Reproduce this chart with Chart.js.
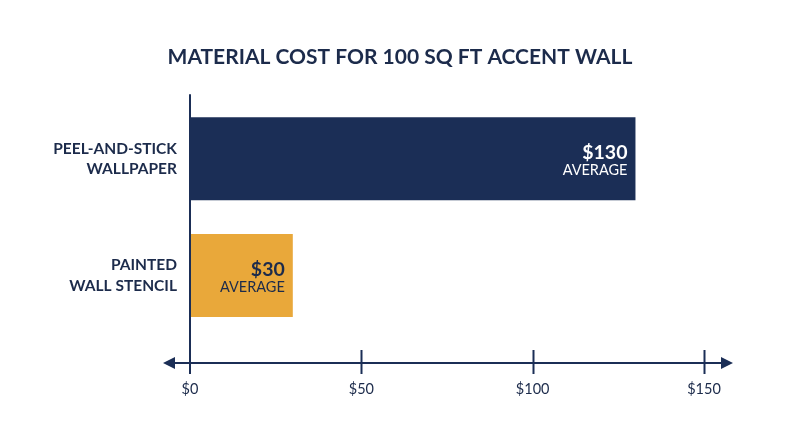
<!DOCTYPE html>
<html>
<head>
<meta charset="utf-8">
<script src="https://cdn.jsdelivr.net/npm/chart.js@4"></script>
<style>
  html, body { margin: 0; padding: 0; background: #ffffff; }
  #wrap { width: 800px; height: 447px; position: relative; }
</style>
</head>
<body>
<div id="wrap"><canvas id="c" width="800" height="447"></canvas></div>
<script>
const categories = [["PEEL-AND-STICK", "WALLPAPER"], ["PAINTED", "WALL STENCIL"]];
const values = [130, 30];
const valueLabels = ["$130", "$30"];
const subLabel = "AVERAGE";
const tickValues = [0, 50, 100, 150];
const titleText = "MATERIAL COST FOR 100 SQ FT ACCENT WALL";

const NAVY = "#1b2e56";
const TEXT = "#1c2b4b";
const ORANGE = "#e9a83a";
const FONT = "Lato, 'Open Sans', sans-serif";

const decor = {
  id: "decor",
  afterDatasetsDraw(chart) {
    const ctx = chart.ctx;
    const xs = chart.scales.x;
    const ca = chart.chartArea;
    const axisY = ca.bottom + 29;
    const x0 = xs.getPixelForValue(0);
    const xMax = xs.getPixelForValue(150);
    ctx.save();
    ctx.strokeStyle = NAVY;
    ctx.fillStyle = NAVY;
    ctx.lineWidth = 2;
    // horizontal axis
    ctx.beginPath();
    ctx.moveTo(x0 - 20, axisY);
    ctx.lineTo(xMax + 20, axisY);
    ctx.stroke();
    // arrows
    ctx.beginPath();
    ctx.moveTo(x0 - 27, axisY);
    ctx.lineTo(x0 - 15, axisY - 6);
    ctx.lineTo(x0 - 15, axisY + 6);
    ctx.closePath();
    ctx.fill();
    ctx.beginPath();
    ctx.moveTo(xMax + 29, axisY);
    ctx.lineTo(xMax + 17, axisY - 6);
    ctx.lineTo(xMax + 17, axisY + 6);
    ctx.closePath();
    ctx.fill();
    // tick marks
    tickValues.forEach(v => {
      if (v === 0) return;
      const px = Math.round(xs.getPixelForValue(v)) + 0.5;
      ctx.beginPath();
      ctx.moveTo(px, axisY - 13);
      ctx.lineTo(px, axisY + 11);
      ctx.stroke();
    });
    // vertical axis
    ctx.beginPath();
    ctx.moveTo(x0, ca.top - 6);
    ctx.lineTo(x0, axisY + 11);
    ctx.stroke();
    // value labels
    const meta = chart.getDatasetMeta(0);
    meta.data.forEach((bar, i) => {
      const col = i === 0 ? "#ffffff" : TEXT;
      ctx.fillStyle = col;
      ctx.textAlign = "right";
      ctx.textBaseline = "middle";
      ctx.font = "bold 19.5px " + FONT;
      ctx.fillText(valueLabels[i], bar.x - 8, bar.y - 6);
      ctx.font = "14.5px " + FONT;
      ctx.fillText(subLabel, bar.x - 8, bar.y + 12);
    });
    ctx.restore();
  }
};

new Chart(document.getElementById("c"), {
  type: "bar",
  data: {
    labels: categories,
    datasets: [{
      data: values,
      backgroundColor: [NAVY, ORANGE],
      borderWidth: 0,
      categoryPercentage: 0.71,
      barPercentage: 1.0
    }]
  },
  options: {
    indexAxis: "y",
    responsive: false,
    animation: false,
    layout: { padding: 0 },
    plugins: {
      legend: { display: false },
      tooltip: { enabled: false },
      title: {
        display: true,
        text: titleText,
        color: TEXT,
        font: { family: FONT, size: 21, weight: "bold", lineHeight: 1.2 },
        padding: { top: 45, bottom: 30 }
      }
    },
    scales: {
      x: {
        min: 0,
        max: 150,
        grid: { display: false, drawTicks: false },
        border: { display: false },
        ticks: {
          stepSize: 50,
          padding: 47,
          color: TEXT,
          font: { family: FONT, size: 14.5 },
          callback: v => "$" + v
        },
        afterFit(scale) { scale.height = 113; }
      },
      y: {
        grid: { display: false, drawTicks: false },
        border: { display: false },
        ticks: {
          padding: 13,
          color: TEXT,
          font: { family: FONT, size: 15.5, weight: "bold", lineHeight: 1.3 }
        },
        afterFit(scale) { scale.width = 190; }
      },
      yRight: {
        type: "linear",
        position: "right",
        display: true,
        grid: { display: false, drawTicks: false },
        border: { display: false },
        ticks: { display: false },
        afterFit(scale) { scale.width = 96; }
      }
    }
  },
  plugins: [decor]
});
</script>
</body>
</html>
